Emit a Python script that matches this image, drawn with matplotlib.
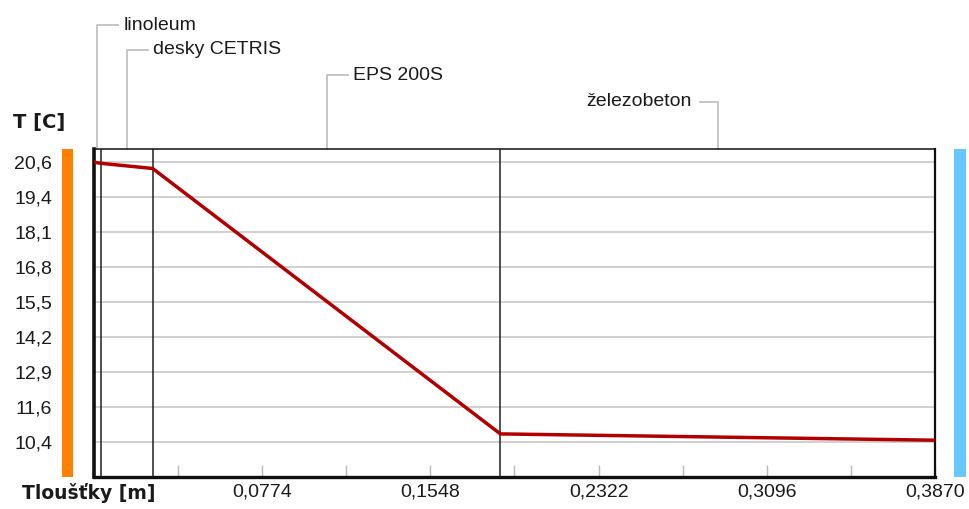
import matplotlib.pyplot as plt
import numpy as np
from matplotlib.patches import Rectangle
from matplotlib.transforms import blended_transform_factory

# construction layers from the interior side, thickness in m
layer_names = ["linoleum", "desky CETRIS", "EPS 200S", "železobeton"]
layer_thickness = [0.003, 0.024, 0.160, 0.200]
# temperature at each layer interface [C]
boundary_temps = [20.59, 20.55, 20.36, 10.69, 10.46]

y_tick_labels = ["10,4", "11,6", "12,9", "14,2", "15,5", "16,8", "18,1", "19,4", "20,6"]
x_tick_values = [0.0774, 0.1548, 0.2322, 0.3096, 0.3870]

W, H = 970, 509
FONT = "Liberation Sans"
BOLD = "DejaVu Sans"
TEXT_C = "#1a1a1a"
GRID_C = "#c8c8c8"
LEADER_C = "#c0c0c0"


def fx(px):
    return px / W


def fy(py):
    return 1 - py / H


x_bounds = np.concatenate([[0.0], np.cumsum(layer_thickness)])
total = x_bounds[-1]

fig = plt.figure(figsize=(W / 100, H / 100), dpi=100)
ax_l, ax_r, ax_t, ax_b = 94, 935, 149, 477
ax = fig.add_axes([fx(ax_l), fy(ax_b), (ax_r - ax_l) / W, (ax_b - ax_t) / H])

# temperature profile
ax.plot(x_bounds, boundary_temps, color="#b00000", lw=2.5, zorder=5,
        solid_joinstyle="miter")

# layer interfaces
for xb in x_bounds[1:-1]:
    ax.axvline(xb, color="#202020", lw=1.1, zorder=3)

ax.set_xlim(0, total)
ax.set_ylim(9.12, 21.07)

y_ticks = np.linspace(10.4, 20.6, len(y_tick_labels))
ax.set_yticks(y_ticks)
ax.set_yticklabels(y_tick_labels, fontsize=14, family=FONT, color=TEXT_C)
ax.tick_params(axis="y", length=0, pad=30)
ax.yaxis.grid(True, color=GRID_C, lw=1.2, zorder=0)

ax.set_xticks(x_tick_values)
ax.set_xticklabels([f"{v:.4f}".replace(".", ",") for v in x_tick_values],
                   fontsize=14, family=FONT, color=TEXT_C)
ax.set_xticks(np.arange(1, 10) * total / 10, minor=True)
ax.tick_params(axis="x", which="both", direction="in", length=9,
               color="#b8b8b8", width=1.0, pad=5)

for side, lw in [("left", 2.6), ("bottom", 2.4), ("top", 1.1), ("right", 1.6)]:
    ax.spines[side].set_linewidth(lw)
    ax.spines[side].set_color("#101010")
ax.set_axisbelow(True)

# side colour bars (interior / exterior)
fig.add_artist(Rectangle((fx(62), fy(ax_b)), 11 / W, (ax_b - ax_t) / H,
                         transform=fig.transFigure, color="#ff8000", lw=0))
fig.add_artist(Rectangle((fx(954), fy(ax_b)), 12 / W, (ax_b - ax_t) / H,
                         transform=fig.transFigure, color="#66c8ff", lw=0))

# layer name leaders above the plot
trans = blended_transform_factory(ax.transData, fig.transFigure)
m_per_px = total / (ax_r - ax_l)
levels = [25, 50, 75, 102]
for i, name in enumerate(layer_names):
    mid = (x_bounds[i] + x_bounds[i + 1]) / 2
    ly = fy(levels[i])
    right_side = i < len(layer_names) - 1
    end = mid + (21 if right_side else -18) * m_per_px
    ax.plot([mid, mid, end], [fy(ax_t), ly, ly], color=LEADER_C, lw=1.3,
            transform=trans, clip_on=False)
    tx = end + (5 if right_side else -8) * m_per_px
    ax.text(tx, ly, name, transform=trans, ha="left" if right_side else "right",
            va="center", fontsize=14, family=FONT, color=TEXT_C)

fig.text(fx(13), fy(123), "T [C]", fontsize=14, family=BOLD,
         weight="bold", va="center", ha="left", color=TEXT_C)
fig.text(fx(22), fy(493), "Tloušťky [m]", fontsize=13.5, family=BOLD,
         weight="bold", va="center", ha="left", color=TEXT_C)

fig.savefig("out.png", dpi=100)
